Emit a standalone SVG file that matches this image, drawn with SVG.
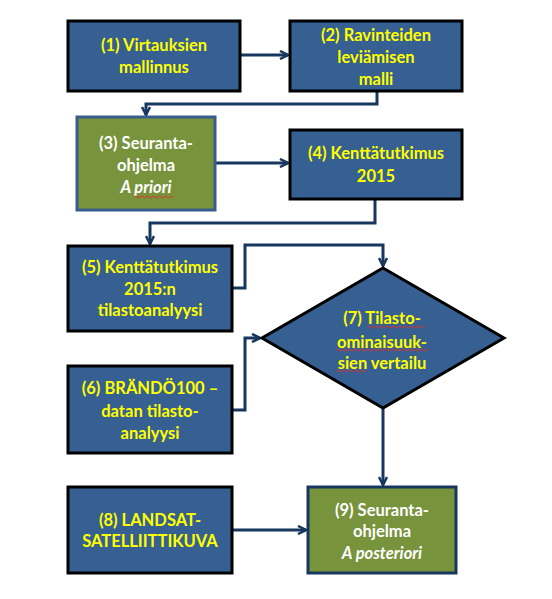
<svg xmlns="http://www.w3.org/2000/svg" width="552" height="599" viewBox="0 0 552 599">
<style>
.blue{fill:#376092;stroke:#000;stroke-width:3}
.green{fill:#77933c;stroke:#385d8a;stroke-width:3}
.green9{fill:#77933c;stroke:#17375e;stroke-width:3}
.t{font-family:Lato,"Open Sans",sans-serif;font-weight:bold;font-size:16.5px;text-anchor:middle}
.y{fill:#ffff00}
.w{fill:#ffffff}
.c{fill:none;stroke:#17375e;stroke-width:3}
.sq{fill:none;stroke:#e03030;stroke-width:1}
</style>
<defs>
<marker id="a" viewBox="0 0 10 10" refX="9" refY="5" markerWidth="10" markerHeight="10" markerUnits="userSpaceOnUse" orient="auto">
<polyline points="1,1 9,5 1,9" fill="none" stroke="#17375e" stroke-width="2.5"/>
</marker>
</defs>
<rect width="552" height="599" fill="#fff"/>
<g id="connectors">
<path class="c" d="M240,55 H288" marker-end="url(#a)"/>
<path class="c" d="M377,91 V104 H146 V115" marker-end="url(#a)"/>
<path class="c" d="M215,163 H288" marker-end="url(#a)"/>
<path class="c" d="M375,199 V223 H150 V244" marker-end="url(#a)"/>
<path class="c" d="M232,288 H245 V245 H383 V266" marker-end="url(#a)"/>
<path class="c" d="M232,410 H245 V338 H260" marker-end="url(#a)"/>
<path class="c" d="M383,408 V485" marker-end="url(#a)"/>
<path class="c" d="M232,530 H306" marker-end="url(#a)"/>
</g>
<g id="n1">
<rect class="blue" x="68" y="21" width="172" height="70"/>
<text class="t y" x="154" y="51">(1) Virtauksien</text>
<text class="t y" x="154" y="73">mallinnus</text>
</g>
<g id="n2">
<rect class="blue" x="290" y="21" width="172" height="70"/>
<text class="t y" x="376" y="41">(2) Ravinteiden</text>
<text class="t y" x="376" y="63">leviämisen</text>
<text class="t y" x="376" y="85">malli</text>
</g>
<g id="n3">
<rect class="green" x="77" y="117" width="138" height="93"/>
<text class="t w" x="146" y="149">(3) Seuranta-</text>
<text class="t w" x="146" y="171">ohjelma</text>
<text class="t w" x="146" y="193" font-style="italic">A priori</text>
<path class="sq" d="M134,197 q1.5,-2 3,0 t3,0 t3,0 t3,0 t3,0 t3,0 t3,0 t3,0 t3,0 t3,0 t3,0 t3,0 t3,0"/>
</g>
<g id="n4">
<rect class="blue" x="290" y="130" width="172" height="69"/>
<text class="t y" x="376" y="159">(4) Kenttätutkimus</text>
<text class="t y" x="376" y="182">2015</text>
</g>
<g id="n5">
<rect class="blue" x="68" y="246" width="164" height="85"/>
<text class="t y" x="150" y="273">(5) Kenttätutkimus</text>
<text class="t y" x="150" y="295">2015:n</text>
<text class="t y" x="150" y="316">tilastoanalyysi</text>
</g>
<g id="n7">
<polygon class="blue" points="383,268 504,338 383,408 262,338"/>
<text class="t y" x="382" y="324">(7) Tilasto-</text>
<text class="t y" x="382" y="348">ominaisuuk-</text>
<text class="t y" x="382" y="369">sien vertailu</text>
<path class="sq" d="M368,327 q1.5,-2 3,0 t3,0 t3,0 t3,0 t3,0 t3,0 t3,0 t3,0 t3,0 t3,0 t3,0 t3,0 t3,0 t3,0 t3,0 t3,0 t3,0 t3,0 t3,0"/>
<path class="sq" d="M336,350 q1.5,-2 3,0 t3,0 t3,0 t3,0 t3,0 t3,0 t3,0 t3,0 t3,0 t3,0 t3,0 t3,0 t3,0 t3,0 t3,0 t3,0 t3,0 t3,0 t3,0 t3,0 t3,0 t3,0 t3,0 t3,0 t3,0 t3,0 t3,0 t3,0 t3,0 t3,0 t3,0"/>
<path class="sq" d="M336,371 q1.5,-2 3,0 t3,0 t3,0 t3,0 t3,0 t3,0 t3,0 t3,0 t3,0 t3,0"/>
</g>
<g id="n6">
<rect class="blue" x="68" y="366" width="164" height="87"/>
<text class="t y" x="150" y="394">(6) BRÄNDÖ100 –</text>
<text class="t y" x="150" y="417">datan tilasto-</text>
<text class="t y" x="150" y="439">analyysi</text>
</g>
<g id="n8">
<rect class="blue" x="68" y="487" width="164" height="86"/>
<text class="t y" x="150" y="526">(8) LANDSAT-</text>
<text class="t y" x="150" y="547">SATELLIITTIKUVA</text>
</g>
<g id="n9">
<rect class="green9" x="308" y="487" width="148" height="86"/>
<text class="t w" x="382" y="516">(9) Seuranta-</text>
<text class="t w" x="382" y="537">ohjelma</text>
<text class="t w" x="382" y="559" font-style="italic">A posteriori</text>
</g>
</svg>
